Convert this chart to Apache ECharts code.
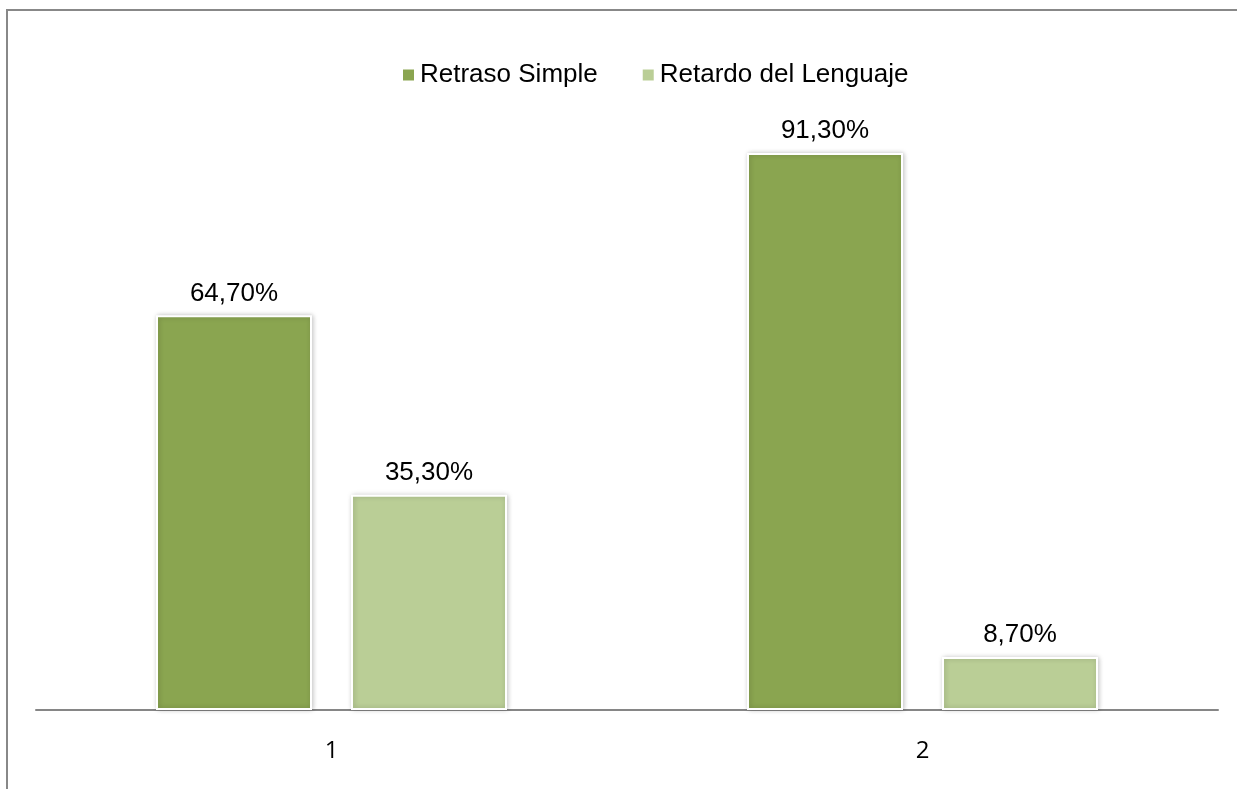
<!DOCTYPE html>
<html>
<head>
<meta charset="utf-8">
<script src="https://cdn.jsdelivr.net/npm/echarts@6/dist/echarts.min.js"></script>
<style>
html,body{margin:0;padding:0;background:#fff;}
#c{width:1237px;height:789px;}
</style>
</head>
<body>
<div id="c"></div>
<script>
var categories = ['1', '2'];
var retrasoSimple = [64.7, 91.3];
var retardoLenguaje = [35.3, 8.7];
var seriesNames = ['Retraso Simple', 'Retardo del Lenguaje'];

function fmt(p) {
  return p.value.toFixed(2).replace('.', ',') + '%';
}

var chart = echarts.init(document.getElementById('c'));
var labelStyle = {
  show: true, position: 'top', distance: 9,
  formatter: fmt, fontFamily: 'Liberation Sans, Arial, sans-serif',
  fontSize: 26, color: '#000'
};
var itemBase = {
  borderColor: '#fff', borderWidth: 2,
  shadowBlur: 5, shadowColor: 'rgba(0,0,0,0.22)', shadowOffsetX: 1, shadowOffsetY: 0
};
chart.setOption({
  animation: false,
  graphic: [{
    type: 'rect', silent: true,
    shape: { x: 7, y: 10, width: 1400, height: 1000 },
    style: { fill: 'none', stroke: '#888', lineWidth: 2 }
  }],
  legend: {
    data: seriesNames,
    top: 57, left: 396,
    itemWidth: 13, itemHeight: 13, itemGap: 43,
    icon: 'rect',
    textStyle: { fontFamily: 'Liberation Sans, Arial, sans-serif', fontSize: 26, color: '#000' }
  },
  grid: { left: 36, right: 19, top: 100, bottom: 79, containLabel: false },
  xAxis: {
    type: 'category', data: categories,
    axisLine: { lineStyle: { color: '#868686', width: 2 } },
    axisTick: { show: false },
    axisLabel: { margin: 29, fontFamily: 'Open Sans, sans-serif', fontSize: 24, color: '#000' }
  },
  yAxis: {
    type: 'value', min: 0, max: 100, show: false,
    splitLine: { show: false }
  },
  series: [{
    name: seriesNames[0], type: 'bar', data: retrasoSimple,
    barWidth: 156, barGap: '25%',
    itemStyle: Object.assign({ color: '#8AA550' }, itemBase),
    label: labelStyle
  }, {
    name: seriesNames[1], type: 'bar', data: retardoLenguaje,
    barWidth: 156, barGap: '25%',
    itemStyle: Object.assign({ color: '#BACE96' }, itemBase),
    label: labelStyle
  }]
});
</script>
</body>
</html>
